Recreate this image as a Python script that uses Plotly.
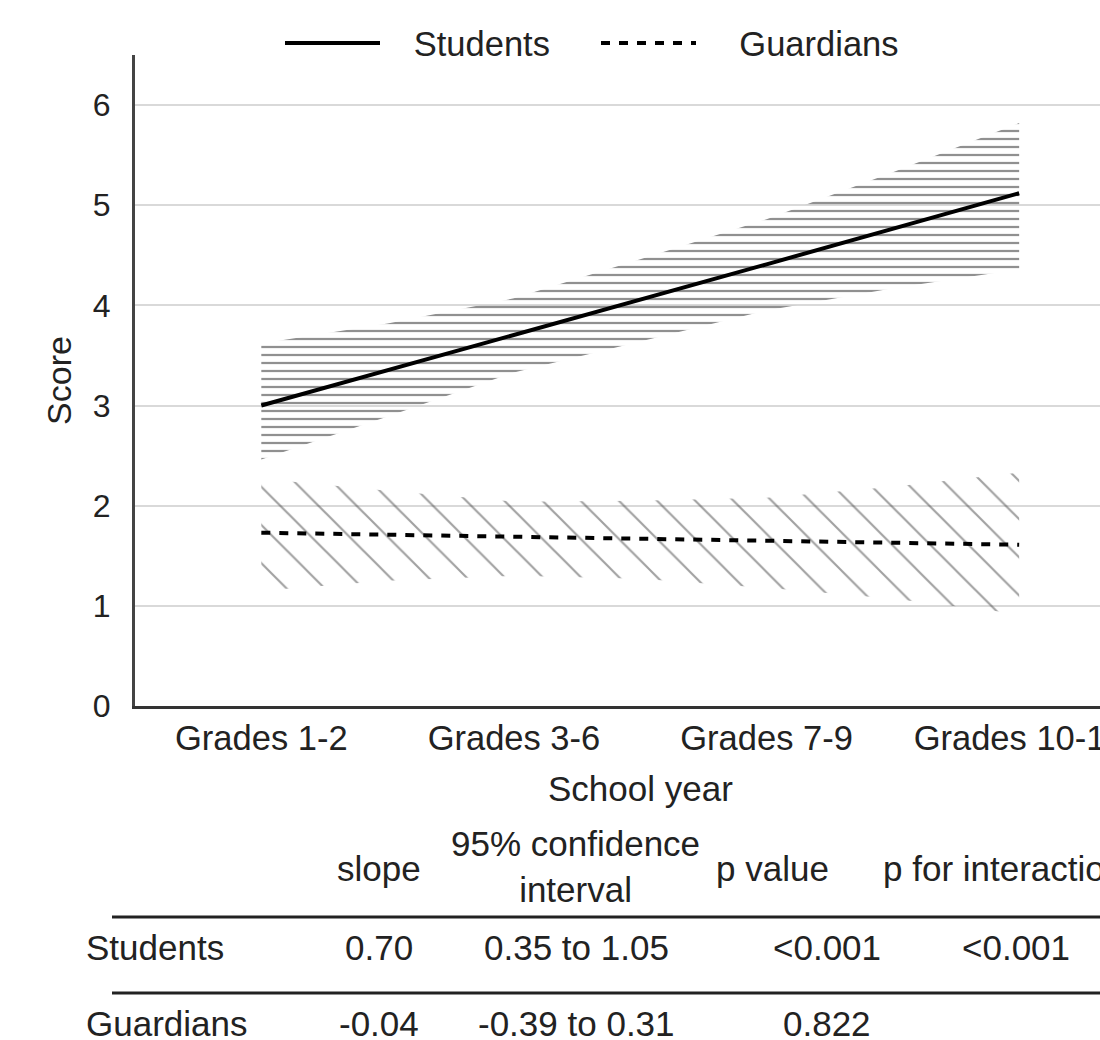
import plotly.graph_objects as go

# ---------------- data ----------------
school_years = ["Grades 1-2", "Grades 3-6", "Grades 7-9", "Grades 10-12"]
year_index = [0, 1, 2, 3]
students_mean = [3.00, 3.70, 4.41, 5.12]
guardians_mean = [1.73, 1.69, 1.65, 1.61]

band_x = [0, 0.5, 1, 1.5, 2, 2.5, 3]
students_upper = [3.62, 3.82, 4.07, 4.46, 4.86, 5.33, 5.82]
students_lower = [2.46, 2.89, 3.33, 3.64, 3.95, 4.17, 4.36]
guardians_upper = [2.27, 2.15, 2.04, 2.05, 2.08, 2.19, 2.33]
guardians_lower = [1.15, 1.25, 1.30, 1.27, 1.18, 1.07, 0.92]

y_ticks = [0, 1, 2, 3, 4, 5, 6]

table_header = ["slope", "95% confidence<br>interval", "p value", "p for interaction"]
table_groups = ["Students", "Guardians"]
table_slope = ["0.70", "-0.04"]
table_ci = ["0.35 to 1.05", "-0.39 to 0.31"]
table_p = ["<0.001", "0.822"]
table_p_inter = ["<0.001", ""]

# ---------------- layout constants (page pixels) ----------------
W, H = 1100, 1040
PL, PR, PT, PB = 135, 1100, 55, 706
FONT = "Liberation Sans, Arial, sans-serif"
TXT = "#222222"
NB = "\u00a0"


def fx(px):
    return (px - PL) / (PR - PL)


def fy(py):
    return (PB - py) / (PB - PT)


fig = go.Figure()

# confidence bands
fig.add_trace(go.Scatter(
    x=band_x + band_x[::-1], y=students_upper + students_lower[::-1],
    fill="toself", mode="lines", line=dict(width=0, color="rgba(0,0,0,0)"),
    fillcolor="rgba(0,0,0,0)",
    fillpattern=dict(shape="-", size=8, solidity=0.28, fgcolor="#222222",
                     bgcolor="rgba(0,0,0,0)"),
    showlegend=False, hoverinfo="skip"))
fig.add_trace(go.Scatter(
    x=band_x + band_x[::-1], y=guardians_upper + guardians_lower[::-1],
    fill="toself", mode="lines", line=dict(width=0, color="rgba(0,0,0,0)"),
    fillcolor="rgba(0,0,0,0)",
    fillpattern=dict(shape="\\", size=27, solidity=0.08, fgcolor="#444444",
                     bgcolor="rgba(0,0,0,0)"),
    showlegend=False, hoverinfo="skip"))

# fitted lines
fig.add_trace(go.Scatter(x=year_index, y=students_mean, mode="lines",
                         name=NB * 3 + "Students",
                         line=dict(color="black", width=4)))
fig.add_trace(go.Scatter(x=year_index, y=guardians_mean, mode="lines",
                         name=NB * 4 + "Guardians",
                         line=dict(color="black", width=4, dash="9px,9px")))

fig.update_layout(
    width=W, height=H,
    margin=dict(l=PL, r=W - PR, t=PT, b=H - PB, pad=0, autoexpand=False),
    paper_bgcolor="white", plot_bgcolor="white",
    font=dict(family=FONT, size=34, color=TXT),
    showlegend=True,
    legend=dict(orientation="h", x=fx(280), xanchor="left", y=fy(43), yanchor="middle",
                font=dict(size=34.5, color=TXT), itemwidth=95, entrywidth=206,
                entrywidthmode="pixels", bgcolor="rgba(0,0,0,0)",
                traceorder="normal"),
    xaxis=dict(range=[-0.5, 3.32], tickvals=year_index, ticktext=school_years,
               showgrid=False, zeroline=False, showline=True, linecolor="#333333",
               linewidth=3, ticks="", tickfont=dict(size=34.5, color=TXT),
               ticklabeloverflow="allow", automargin=False, fixedrange=True),
    yaxis=dict(range=[0, 6.5], tickvals=y_ticks, showgrid=True, gridcolor="#d9d9d9",
               gridwidth=2, zeroline=False, showline=True, linecolor="#444444",
               linewidth=3, ticks="", ticklabelstandoff=15, automargin=False,
               tickfont=dict(size=32, color=TXT),
               title=dict(text="Score", font=dict(size=34, color=TXT), standoff=11)),
)

ann = []
# x axis title (centered on the original, wider plot area)
ann.append(dict(text="School year", x=fx(640), y=fy(788), xref="paper", yref="paper",
                showarrow=False, xanchor="center", yanchor="middle",
                font=dict(size=35, color=TXT)))

# table header
header_pos = [(379, 868, "center"), (575, 866, "center"), (772, 868, "center"),
              (881, 868, "left")]
for txt, (hx, hy, anc) in zip(table_header, header_pos):
    ann.append(dict(text=txt, x=fx(hx), y=fy(hy), xref="paper", yref="paper",
                    showarrow=False, xanchor=anc, yanchor="middle",
                    font=dict(size=35, color=TXT)))

row_y = [947, 1024]
col_x = [379, 576, 827, 1016]
for r, g in enumerate(table_groups):
    ann.append(dict(text=g, x=fx(84), y=fy(row_y[r]), xref="paper", yref="paper",
                    showarrow=False, xanchor="left", yanchor="middle",
                    font=dict(size=35, color=TXT)))
    for c, vals in enumerate([table_slope, table_ci, table_p, table_p_inter]):
        if vals[r]:
            ann.append(dict(text=vals[r], x=fx(col_x[c]), y=fy(row_y[r]), xref="paper",
                            yref="paper", showarrow=False, xanchor="center",
                            yanchor="middle", font=dict(size=35, color=TXT)))

shapes = []
for ly in [917, 993]:
    shapes.append(dict(type="line", xref="paper", yref="paper", x0=fx(112), x1=fx(1100),
                       y0=fy(ly), y1=fy(ly), line=dict(color="#222222", width=3)))

fig.update_layout(annotations=ann, shapes=shapes)

fig.write_html(
    "out.html",
    config={"displayModeBar": False},
    post_script="document.body.style.margin='0';document.body.style.overflow='hidden';",
)
